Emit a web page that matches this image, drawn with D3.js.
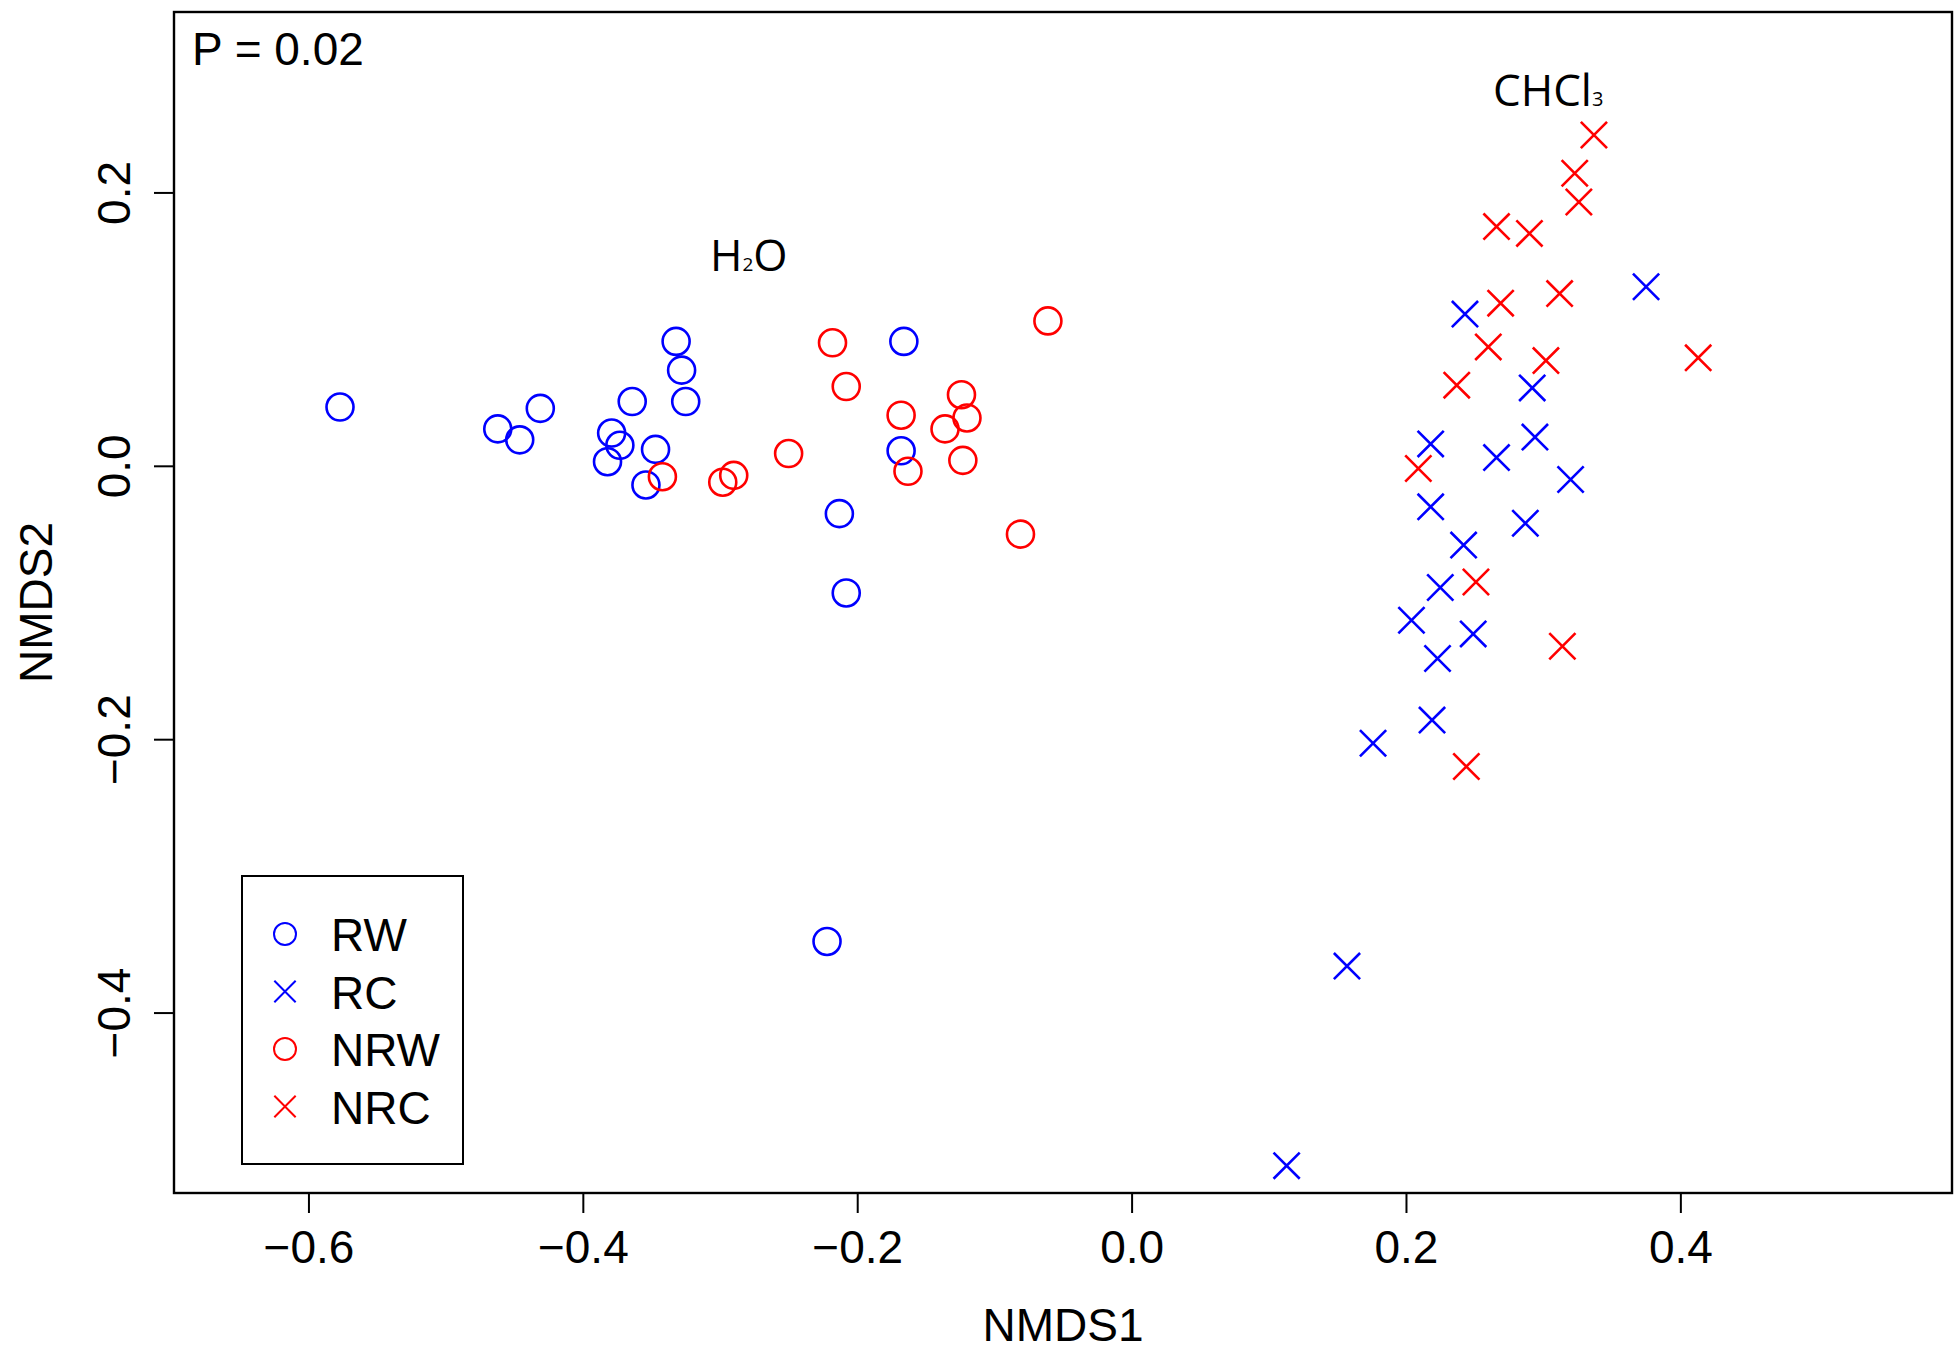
<!DOCTYPE html>
<html>
<head>
<meta charset="utf-8">
<script src="https://cdn.jsdelivr.net/npm/d3@7"></script>
<style>
  html, body { margin: 0; padding: 0; background: #fff; }
  svg { display: block; }
</style>
</head>
<body>
<svg id="svg1"></svg>
<script>
// points [NMDS1, NMDS2]
const rw = [
  [-0.577, 0.043], [-0.462, 0.027], [-0.446, 0.019], [-0.431, 0.042],
  [-0.379, 0.024], [-0.373, 0.015], [-0.382, 0.003], [-0.364, 0.047],
  [-0.347, 0.012], [-0.354, -0.014], [-0.332, 0.091], [-0.328, 0.070],
  [-0.325, 0.047], [-0.166, 0.091], [-0.168, 0.011], [-0.213, -0.035],
  [-0.208, -0.093], [-0.222, -0.348]
];
const rc = [
  [0.375, 0.131], [0.243, 0.111], [0.292, 0.057], [0.218, 0.016],
  [0.266, 0.006], [0.294, 0.021], [0.320, -0.010], [0.218, -0.030],
  [0.287, -0.042], [0.242, -0.058], [0.225, -0.089], [0.204, -0.113],
  [0.249, -0.123], [0.223, -0.141], [0.219, -0.186], [0.176, -0.203],
  [0.157, -0.366], [0.113, -0.512]
];
const nrw = [
  [-0.342, -0.008], [-0.218, 0.090], [-0.061, 0.106], [-0.208, 0.058],
  [-0.168, 0.037], [-0.124, 0.052], [-0.120, 0.035], [-0.136, 0.027],
  [-0.123, 0.004], [-0.163, -0.004], [-0.250, 0.009], [-0.290, -0.007],
  [-0.298, -0.012], [-0.081, -0.050]
];
const nrc = [
  [0.337, 0.242], [0.323, 0.214], [0.326, 0.193], [0.266, 0.175],
  [0.290, 0.170], [0.312, 0.126], [0.269, 0.119], [0.260, 0.087],
  [0.302, 0.077], [0.413, 0.079], [0.237, 0.059], [0.209, -0.002],
  [0.251, -0.085], [0.314, -0.132], [0.244, -0.220]
];

const groups = ["RW", "RC", "NRW", "NRC"];
const groupColors = ["#0000FF", "#0000FF", "#FF0000", "#FF0000"];
const groupShapes = ["circle", "cross", "circle", "cross"];
const groupPoints = [rw, rc, nrw, nrc];

const xTicks = [-0.6, -0.4, -0.2, 0.0, 0.2, 0.4];
const yTicks = [-0.4, -0.2, 0.0, 0.2];
const xDomain = [-0.698, 0.598];
const yDomain = [-0.532, 0.332];

const width = 1955, height = 1356;
const margin = {top: 12, right: 3, bottom: 163, left: 174};
const font = "'Liberation Sans', Arial, Helvetica, sans-serif";
const fs = 46;

const svg = d3.select("#svg1")
  .attr("width", width)
  .attr("height", height)
  .attr("viewBox", [0, 0, width, height]);

const x = d3.scaleLinear(xDomain, [margin.left, width - margin.right]);
const y = d3.scaleLinear(yDomain, [height - margin.bottom, margin.top]);

// x axis
const gx = svg.append("g")
  .attr("transform", `translate(0,${height - margin.bottom})`)
  .call(d3.axisBottom(x).tickValues(xTicks).tickSize(20).tickPadding(17)
    .tickFormat(d3.format(".1f")));
gx.select(".domain").remove();
gx.selectAll("line").attr("stroke", "#000").attr("stroke-width", 2);
gx.selectAll("text").attr("font-family", font).attr("font-size", fs).attr("fill", "#000");

// y axis, labels rotated like R's default
const gy = svg.append("g")
  .attr("transform", `translate(${margin.left},0)`)
  .call(d3.axisLeft(y).tickValues(yTicks).tickSize(20)
    .tickFormat(d3.format(".1f")));
gy.select(".domain").remove();
gy.selectAll("line").attr("stroke", "#000").attr("stroke-width", 2);
gy.selectAll("text")
  .attr("font-family", font).attr("font-size", fs).attr("fill", "#000")
  .attr("transform", "rotate(-90)")
  .attr("x", 0).attr("y", -44).attr("dy", 0)
  .attr("text-anchor", "middle");

// plot frame
svg.append("rect")
  .attr("x", margin.left).attr("y", margin.top)
  .attr("width", width - margin.right - margin.left)
  .attr("height", height - margin.bottom - margin.top)
  .attr("fill", "none").attr("stroke", "#000").attr("stroke-width", 2.4);

// axis titles
svg.append("text")
  .attr("x", (margin.left + width - margin.right) / 2).attr("y", 1341)
  .attr("text-anchor", "middle")
  .attr("font-family", font).attr("font-size", fs)
  .text("NMDS1");

svg.append("text")
  .attr("transform", `translate(52,${(margin.top + height - margin.bottom) / 2}) rotate(-90)`)
  .attr("text-anchor", "middle")
  .attr("font-family", font).attr("font-size", fs)
  .text("NMDS2");

svg.append("text")
  .attr("x", 192).attr("y", 65)
  .attr("font-family", font).attr("font-size", fs)
  .text("P = 0.02");

// cluster labels
const labFont = "'Open Sans', 'Noto Sans', sans-serif";
const h2o = svg.append("text")
  .attr("x", 710).attr("y", 271)
  .attr("font-family", labFont).attr("font-size", 44);
h2o.append("tspan").text("H");
h2o.append("tspan").attr("font-size", 19).text("2");
h2o.append("tspan").text("O");

const chcl = svg.append("text")
  .attr("x", 1493).attr("y", 106)
  .attr("font-family", labFont).attr("font-size", 44);
chcl.append("tspan").text("CHCl");
chcl.append("tspan").attr("font-size", 20).text("3");

// symbols
function crossPath(s) {
  return `M${-s},${-s}L${s},${s}M${-s},${s}L${s},${-s}`;
}
function drawSymbol(g, shape, color, r, sw) {
  if (shape === "circle") {
    g.append("circle").attr("r", r)
      .attr("fill", "none").attr("stroke", color).attr("stroke-width", sw);
  } else {
    g.append("path").attr("d", crossPath(r * 0.97))
      .attr("fill", "none").attr("stroke", color).attr("stroke-width", sw);
  }
}

groups.forEach((name, i) => {
  const g = svg.append("g").attr("class", "grp-" + name);
  g.selectAll("g")
    .data(groupPoints[i])
    .join("g")
    .attr("transform", d => `translate(${x(d[0])},${y(d[1])})`)
    .each(function () {
      drawSymbol(d3.select(this), groupShapes[i], groupColors[i], 13.5, 2.6);
    });
});

// legend
const legend = svg.append("g");
legend.append("rect")
  .attr("x", 242).attr("y", 876).attr("width", 221).attr("height", 288)
  .attr("fill", "#fff").attr("stroke", "#000").attr("stroke-width", 2);

const item = legend.selectAll("g.item")
  .data(groups)
  .join("g")
  .attr("class", "item")
  .attr("transform", (d, i) => `translate(285,${934 + i * 57.5})`);

item.each(function (d, i) {
  drawSymbol(d3.select(this), groupShapes[i], groupColors[i], 11, 2);
});

item.append("text")
  .attr("x", 46).attr("y", 17)
  .attr("font-family", font).attr("font-size", fs)
  .text(d => d);
</script>
</body>
</html>
